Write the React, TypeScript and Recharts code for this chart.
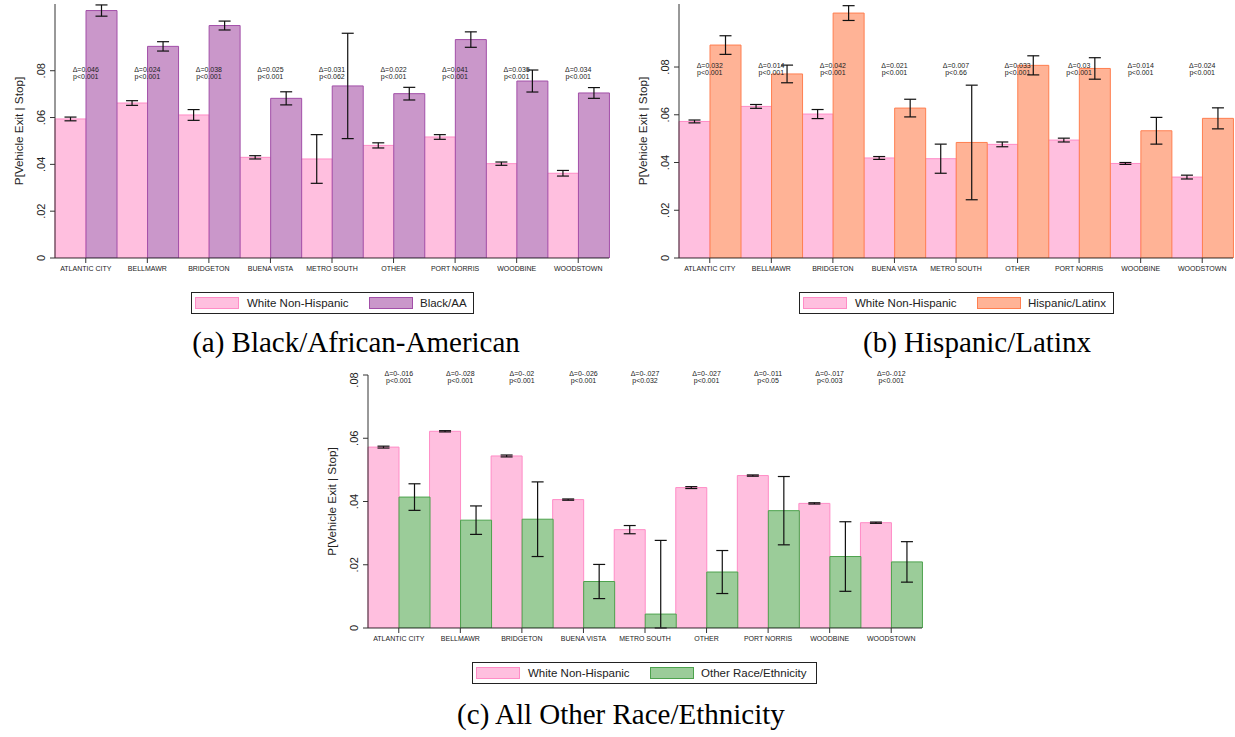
import React from "react";
import { ComposedChart, Bar, ErrorBar, XAxis, YAxis, Line, LabelList } from "recharts";

const cities = ["ATLANTIC CITY", "BELLMAWR", "BRIDGETON", "BUENA VISTA", "METRO SOUTH", "OTHER", "PORT NORRIS", "WOODBINE", "WOODSTOWN"];
const yTicks = [0, 0.02, 0.04, 0.06, 0.08];

// (a) Black/African-American
const whiteA = [0.0594, 0.0662, 0.0611, 0.043, 0.0423, 0.0481, 0.0517, 0.0403, 0.0362];
const whiteAErr = [0.0008, 0.001, 0.0023, 0.0007, 0.0104, 0.0011, 0.001, 0.0007, 0.0012];
const blackA = [0.1057, 0.0904, 0.0993, 0.0682, 0.0735, 0.0702, 0.0933, 0.0756, 0.0705];
const blackAErr = [0.0024, 0.002, 0.0019, 0.0028, 0.0225, 0.0027, 0.0033, 0.0047, 0.0023];
const deltaA = ["0.046", "0.024", "0.038", "0.025", "0.031", "0.022", "0.041", "0.035", "0.034"];
const pA = ["0.001", "0.001", "0.001", "0.001", "0.062", "0.001", "0.001", "0.001", "0.001"];

// (b) Hispanic/Latinx
const whiteB = [0.0572, 0.0635, 0.0603, 0.0419, 0.0416, 0.0476, 0.0494, 0.0396, 0.0339];
const whiteBErr = [0.0006, 0.0008, 0.0019, 0.0006, 0.0061, 0.001, 0.0008, 0.0004, 0.0008];
const hispB = [0.0892, 0.0771, 0.1026, 0.0628, 0.0484, 0.0807, 0.0794, 0.0533, 0.0585];
const hispBErr = [0.0039, 0.0037, 0.0031, 0.0037, 0.024, 0.004, 0.0045, 0.0056, 0.0044];
const deltaB = ["0.032", "0.014", "0.042", "0.021", "0.007", "0.033", "0.03", "0.014", "0.024"];
const pB = ["0.001", "0.001", "0.001", "0.001", "0.66", "0.001", "0.001", "0.001", "0.001"];

// (c) All other race/ethnicity
const whiteC = [0.0572, 0.0622, 0.0544, 0.0406, 0.0311, 0.0444, 0.0482, 0.0394, 0.0333];
const whiteCErr = [0.0003, 0.0002, 0.0003, 0.0002, 0.0013, 0.0003, 0.0002, 0.0002, 0.0002];
const otherC = [0.0414, 0.0341, 0.0344, 0.0147, 0.0044, 0.0177, 0.0371, 0.0226, 0.0209];
const otherCErr = [0.0042, 0.0045, 0.0118, 0.0054, 0.0233, 0.0068, 0.0108, 0.011, 0.0064];
const deltaC = ["0-.016", "0-.028", "0-.02", "0-.026", "0-.027", "0-.027", "0-.011", "0-.017", "0-.012"];
const pC = ["0.001", "0.001", "0.001", "0.001", "0.032", "0.001", "0.05", "0.003", "0.001"];

const SANS = "'Liberation Sans', Arial, Helvetica, sans-serif";
const SERIF = "'Liberation Serif', 'Times New Roman', serif";
const PINK = { fill: "#FFBFDF", stroke: "#FF8CC6" };
const PURPLE = { fill: "#CA97CA", stroke: "#A24FA8" };
const ORANGE = { fill: "#FFB396", stroke: "#FF7F50" };
const GREEN = { fill: "#9BCC99", stroke: "#4DA24D" };
const AXIS = "#333";

function buildRows(white: number[], wErr: number[], grp: number[], gErr: number[], delta: string[], p: string[]) {
  return cities.map((city, i) => ({
    city,
    white: white[i],
    whiteErr: [Math.min(wErr[i], white[i]), wErr[i]],
    group: grp[i],
    groupErr: [Math.min(gErr[i], grp[i]), gErr[i]],
    anchor: 0.08,
    delta: delta[i],
    p: p[i],
  }));
}

const fmtTick = (v: number) => (v === 0 ? "0" : v.toFixed(2).replace(/^0/, ""));

function YTick(props: any) {
  const { x, y, payload } = props;
  return (
    <text x={x} y={y} transform={`rotate(-90 ${x} ${y})`} textAnchor="middle" fontSize={11} fill="#222" fontFamily={SANS}>
      {fmtTick(payload.value)}
    </text>
  );
}

function YLabel(props: any) {
  const vb = props.viewBox || { x: 0, y: 0, width: 55, height: 250 };
  const cx = vb.x + vb.width - 37;
  const cy = vb.y + vb.height / 2;
  return (
    <text x={cx} y={cy} transform={`rotate(-90 ${cx} ${cy})`} textAnchor="middle" dominantBaseline="central" fontSize={11.7} fill="#222" fontFamily={SANS}>
      P[Vehicle Exit | Stop]
    </text>
  );
}

interface PanelProps {
  left: number;
  top: number;
  plotH: number;
  yMax: number;
  rows: ReturnType<typeof buildRows>;
  color: { fill: string; stroke: string };
}

function Panel({ left, top, plotH, yMax, rows, color }: PanelProps) {
  const note = (props: any) => {
    const { x, y, index } = props;
    const r = rows[index];
    return (
      <g>
        <text x={x} y={y - 1.5} textAnchor="middle" dominantBaseline="central" fontSize={7} fill="#222" fontFamily={SANS}>{`Δ=${r.delta}`}</text>
        <text x={x} y={y + 5.5} textAnchor="middle" dominantBaseline="central" fontSize={7} fill="#222" fontFamily={SANS}>{`p<${r.p}`}</text>
      </g>
    );
  };
  return (
    <div style={{ position: "absolute", left, top }}>
      <ComposedChart width={610} height={plotH + 29} data={rows} margin={{ top: 4, right: 1, bottom: 0, left: 0 }} barGap={0} barCategoryGap={0}>
        <XAxis dataKey="city" interval={0} height={25} tickSize={5} tickMargin={3}
          tick={{ fontSize: 7, fill: "#222", fontFamily: SANS }} axisLine={{ stroke: AXIS }} tickLine={{ stroke: AXIS }} />
        <YAxis width={55} domain={[0, yMax]} ticks={yTicks} allowDataOverflow tickSize={5} tickMargin={5}
          tick={<YTick />} axisLine={{ stroke: AXIS }} tickLine={{ stroke: AXIS }} label={<YLabel />} />
        <Bar dataKey="white" fill={PINK.fill} stroke={PINK.stroke} strokeWidth={1} isAnimationActive={false}>
          <ErrorBar dataKey="whiteErr" width={6} stroke="#111" strokeWidth={1.2} direction="y" />
        </Bar>
        <Bar dataKey="group" fill={color.fill} stroke={color.stroke} strokeWidth={1} isAnimationActive={false}>
          <ErrorBar dataKey="groupErr" width={6} stroke="#111" strokeWidth={1.2} direction="y" />
        </Bar>
        <Line dataKey="anchor" stroke="none" dot={false} activeDot={false} isAnimationActive={false} legendType="none">
          <LabelList dataKey="delta" content={note} />
        </Line>
      </ComposedChart>
    </div>
  );
}

function LegendBox({ x, y, width, label }: { x: number; y: number; width: number; label: string; color: { fill: string; stroke: string } } & any) {
  return null;
}

function Legend2({ x, y, width, label, color }: { x: number; y: number; width: number; label: string; color: { fill: string; stroke: string } }) {
  return (
    <g>
      <rect x={x + 0.5} y={y + 0.5} width={width} height={21} fill="#fff" stroke="#222" strokeWidth={1} />
      <rect x={x + 4.5} y={y + 5.5} width={43} height={11} fill={PINK.fill} stroke={PINK.stroke} />
      <text x={x + 56} y={y + 11} dominantBaseline="central" fontSize={11.5} fill="#222" fontFamily={SANS}>White Non-Hispanic</text>
      <rect x={x + 178.5} y={y + 5.5} width={43} height={11} fill={color.fill} stroke={color.stroke} />
      <text x={x + 229} y={y + 11} dominantBaseline="central" fontSize={11.5} fill="#222" fontFamily={SANS}>{label}</text>
    </g>
  );
}

export default function App() {
  const rowsA = buildRows(whiteA, whiteAErr, blackA, blackAErr, deltaA, pA);
  const rowsB = buildRows(whiteB, whiteBErr, hispB, hispBErr, deltaB, pB);
  const rowsC = buildRows(whiteC, whiteCErr, otherC, otherCErr, deltaC, pC);
  return (
    <div style={{ position: "absolute", left: 0, top: 0, width: 1235, height: 737, background: "#fff", overflow: "hidden" }}>
      <Panel left={0} top={0} plotH={254} yMax={0.1085} rows={rowsA} color={PURPLE} />
      <Panel left={624} top={0} plotH={254} yMax={0.1064} rows={rowsB} color={ORANGE} />
      <Panel left={313} top={371} plotH={253} yMax={0.08} rows={rowsC} color={GREEN} />
      <svg width={1235} height={737} style={{ position: "absolute", left: 0, top: 0, pointerEvents: "none" }}>
        <Legend2 x={191} y={292} width={282} label="Black/AA" color={PURPLE} />
        <Legend2 x={799} y={292} width={314} label="Hispanic/Latinx" color={ORANGE} />
        <Legend2 x={472} y={662} width={344} label="Other Race/Ethnicity" color={GREEN} />
        <text x={356} y={352} textAnchor="middle" fontSize={29} fill="#000" fontFamily={SERIF}>(a) Black/African-American</text>
        <text x={977} y={352} textAnchor="middle" fontSize={29} fill="#000" fontFamily={SERIF}>(b) Hispanic/Latinx</text>
        <text x={621} y={724} textAnchor="middle" fontSize={29} fill="#000" fontFamily={SERIF}>(c) All Other Race/Ethnicity</text>
      </svg>
    </div>
  );
}
